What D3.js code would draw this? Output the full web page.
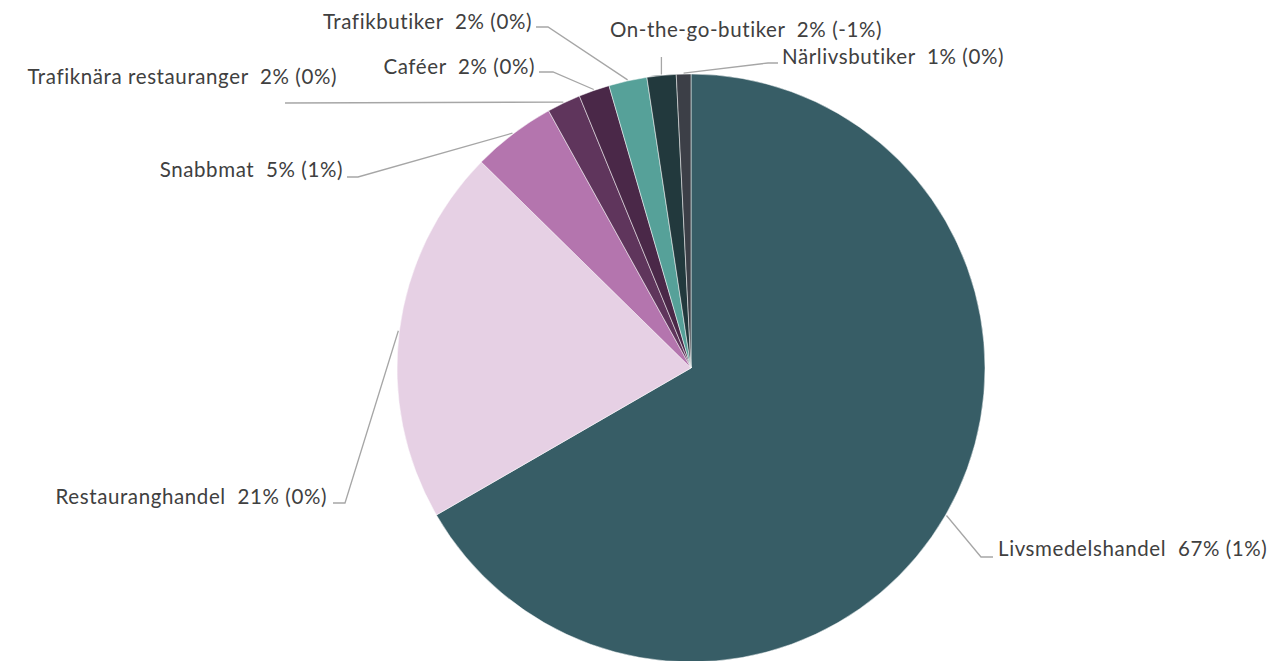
<!DOCTYPE html>
<html>
<head>
<meta charset="utf-8">
<script src="https://cdn.jsdelivr.net/npm/d3@7"></script>
<style>
  html, body { margin: 0; padding: 0; background: #fff; }
  svg text { font-family: Lato, "Open Sans", sans-serif; fill: #404040; white-space: pre; letter-spacing: 0.6px; }
</style>
</head>
<body>
<svg id="chart"></svg>
<script>
// Data (share in %, change in percentage points)
const categories = [
  "Livsmedelshandel",
  "Restauranghandel",
  "Snabbmat",
  "Trafiknära restauranger",
  "Caféer",
  "Trafikbutiker",
  "On-the-go-butiker",
  "Närlivsbutiker"
];
const shares = [66.7, 20.7, 4.6, 1.85, 1.7, 2.1, 1.6, 0.8];
const changes = [1, 0, 1, 0, 0, 0, -1, 0];
const colors = ["#375d66", "#e6d0e4", "#b475ae", "#5f355c", "#4a2848", "#56a199", "#22393d", "#3c3f47"];

// Label placement (text position + leader line bend points)
const labelLayout = [
  { x: 998, y: 549, anchor: "start", pts: [[981, 557], [993, 557]] },
  { x: 327, y: 497, anchor: "end", pts: [[345, 503], [333, 503]] },
  { x: 343, y: 170, anchor: "end", pts: [[358, 177], [347, 177]] },
  { x: 337, y: 77, anchor: "end", pts: [[285, 103]] },
  { x: 535, y: 67, anchor: "end", pts: [[553, 72], [539, 72]] },
  { x: 532, y: 22, anchor: "end", pts: [[548, 27], [536, 27]] },
  { x: 746, y: 30, anchor: "middle", pts: [[661, 57]] },
  { x: 782, y: 57, anchor: "start", pts: [[768, 63], [778, 63]] }
];

const width = 1275;
const height = 661;
const cx = 691;
const cy = 368;
const radius = 294;

const svg = d3.select("#chart").attr("width", width).attr("height", height);

const data = categories.map((name, i) => ({
  name,
  value: shares[i],
  change: changes[i],
  color: colors[i],
  layout: labelLayout[i]
}));

const pie = d3.pie().sort(null).value((d) => d.value).startAngle(0).endAngle(2 * Math.PI);
const arc = d3.arc().innerRadius(0).outerRadius(radius);
const arcs = pie(data);

const g = svg.append("g").attr("transform", `translate(${cx},${cy})`);

// Slices
g.selectAll("path.slice")
  .data(arcs)
  .enter()
  .append("path")
  .attr("class", "slice")
  .attr("d", arc)
  .attr("fill", (d) => d.data.color)
  .attr("stroke", "#ffffff")
  .attr("stroke-width", 0.5);

// Leader lines from slice edge to label
const line = d3.line();
svg.selectAll("path.leader")
  .data(arcs)
  .enter()
  .append("path")
  .attr("class", "leader")
  .attr("d", (d) => {
    const mid = (d.startAngle + d.endAngle) / 2;
    const r = radius + 1;
    const start = [cx + r * Math.sin(mid), cy - r * Math.cos(mid)];
    let pts = d.data.layout.pts;
    if (d.data.layout.anchor === "middle") pts = [[start[0], pts[0][1]]];
    return line([start, ...pts]);
  })
  .attr("fill", "none")
  .attr("stroke", "#a6a6a6")
  .attr("stroke-width", 1.3);

// Labels
const fmt = (v) => `${Math.round(v)}%`;
svg.selectAll("text.label")
  .data(arcs)
  .enter()
  .append("text")
  .attr("class", "label")
  .attr("x", (d) => d.data.layout.x)
  .attr("y", (d) => d.data.layout.y)
  .attr("dy", "0.35em")
  .attr("text-anchor", (d) => d.data.layout.anchor)
  .attr("font-size", 20.5)
  .text((d) => `${d.data.name}  ${fmt(d.data.value)} (${d.data.change}%)`);
</script>
</body>
</html>
